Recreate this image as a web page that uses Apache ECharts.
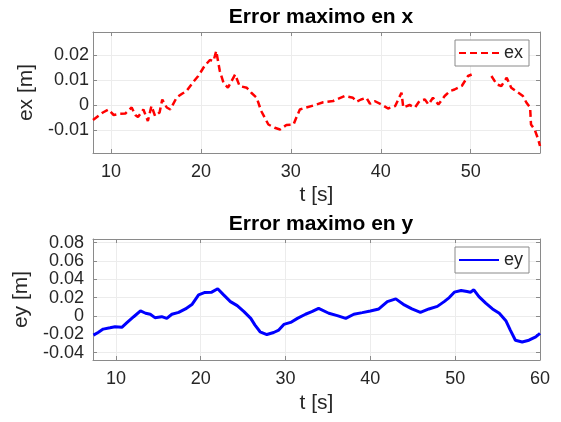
<!DOCTYPE html>
<html>
<head>
<meta charset="utf-8">
<script src="https://cdn.jsdelivr.net/npm/echarts@6/dist/echarts.min.js"></script>
<style>
  html, body { margin: 0; padding: 0; background: #fff; }
  #chart { width: 561px; height: 422px; }
</style>
</head>
<body>
<div id="chart"></div>
<script>
// Error en x: tiempo [s] y error [m]; null marks a gap in the record
const tX = [8.0, 9.1, 9.7, 10.3, 11.0, 11.6, 12.3, 12.7, 13.0, 13.6, 14.1, 14.5, 14.9, 15.4, 15.7, 16.2, 16.6,
  17.3, 17.9, 18.4, 19.1, 19.7, 20.4, 21.0, 21.4, 21.7, 22.1, 22.5, 23.0, 23.8, 24.3, 25.1, 25.6, 26.2, 26.7,
  27.5, 28.2, 28.8, 29.5, 30.3, 30.6, 31.0, 31.7, 32.7, 33.6, 34.7, 36.0, 36.9, 37.3, 37.8, 38.4, 38.8, 39.3,
  40.1, 40.8, 41.6, 42.3, 42.5, 43.2, 43.8, 44.3, 44.9, 45.3, 45.8, 46.4, 47.1, 47.7, 48.2, 49.0, 49.7, 50.1,
  51.2, 52.3, 52.9, 53.4, 54.0, 54.5, 55.3, 55.8, 56.2, 56.6, 56.7, 57.1, 57.5, 57.7];
const ex = [-0.0060, -0.0030, -0.0018, -0.0040, -0.0035, -0.0034, -0.0010, -0.0040, -0.0048, -0.0018, -0.0064,
  -0.0004, -0.0044, -0.0030, 0.0022, -0.0010, -0.0018, 0.0030, 0.0045, 0.0056, 0.0090, 0.0116, 0.0156, 0.0180,
  0.0176, 0.0216, 0.0136, 0.0090, 0.0069, 0.0122, 0.0076, 0.0069, 0.0049, 0.0029, -0.0024, -0.0078, -0.0091,
  -0.0098, -0.0080, -0.0078, -0.0051, -0.0018, -0.0010, 0.0000, 0.0011, 0.0016, 0.0036, 0.0029, 0.0013, 0.0022,
  0.0029, 0.0005, 0.0016, 0.0002, -0.0014, -0.0004, 0.0049, -0.0010, 0.0000, -0.0010, 0.0016, 0.0022, 0.0002,
  0.0029, 0.0002, 0.0036, 0.0056, 0.0062, 0.0076, 0.0116, 0.0122,
  null, 0.0116, 0.0082, 0.0076, 0.0109, 0.0069, 0.0049, 0.0036, 0.0009, -0.0010, -0.0078, -0.0098, -0.0137, -0.0164];

// Error en y
const tY = [7.35, 7.9, 8.5, 9.3, 9.9, 10.7, 11.3, 12.1, 12.9, 13.5, 14.05, 14.6, 15.4, 16.0, 16.6, 17.4, 18.2,
  19.0, 19.75, 20.5, 21.3, 22.0, 22.7, 23.5, 24.3, 25.1, 25.9, 26.4, 27.0, 27.8, 28.6, 29.2, 29.8, 30.6, 31.4,
  32.35, 33.1, 33.9, 35.1, 36.1, 37.1, 38.05, 39.05, 40.0, 41.0, 42.0, 43.0, 44.0, 44.9, 45.9, 46.9, 47.9, 48.7,
  49.3, 49.9, 50.7, 51.4, 51.8, 52.2, 52.8, 53.6, 54.4, 55.2, 56.0, 56.5, 57.1, 57.9, 58.7, 59.5, 60.0];
const ey = [-0.0209, -0.0180, -0.0143, -0.0129, -0.0118, -0.0124, -0.0073, -0.0008, 0.0055, 0.0030, 0.0019,
  -0.0018, -0.0007, -0.0026, 0.0019, 0.0040, 0.0077, 0.0129, 0.0231, 0.0257, 0.0260, 0.0297, 0.0231, 0.0157,
  0.0113, 0.0047, -0.0026, -0.0099, -0.0172, -0.0202, -0.0180, -0.0154, -0.0092, -0.0070, -0.0026, 0.0019,
  0.0047, 0.0084, 0.0030, 0.0004, -0.0026, 0.0019, 0.0037, 0.0055, 0.0077, 0.0157, 0.0187, 0.0121, 0.0077,
  0.0040, 0.0077, 0.0105, 0.0157, 0.0201, 0.0260, 0.0278, 0.0267, 0.0260, 0.0286, 0.0212, 0.0140, 0.0077,
  0.0030, -0.0055, -0.0154, -0.0264, -0.0283, -0.0264, -0.0228, -0.0190];

// Tick positions
const ticksX1 = [10, 20, 30, 40, 50];
const ticksY1 = [-0.01, 0, 0.01, 0.02];
const ticksX2 = [10, 20, 30, 40, 50, 60];
const ticksY2 = [-0.04, -0.02, 0, 0.02, 0.04, 0.06, 0.08];

const FONT = 'Liberation Sans';
const TXT = '#262626';
const BOX = '#8a8a8a';
const GRID = '#ececec';

const fmt = v => String(parseFloat(Number(v).toFixed(3)));

function axis(pos, gridIndex, min, max, ticks, opts) {
  const main = (pos === 'bottom' || pos === 'left');
  const a = {
    type: 'value', gridIndex, position: pos, min, max,
    axisLine: { show: true, onZero: false, lineStyle: { color: BOX, width: 1 } },
    axisTick: { show: true, inside: true, length: 4, customValues: ticks, lineStyle: { color: BOX } },
    axisLabel: {
      show: main, customValues: ticks, formatter: fmt,
      color: TXT, fontFamily: FONT, fontSize: 18, margin: (opts && opts.margin) || 6,
      showMinLabel: true, showMaxLabel: true
    },
    splitLine: { show: main, lineStyle: { color: GRID, width: 1 } }
  };
  if (main && opts && opts.name) {
    a.name = opts.name;
    a.nameLocation = 'middle';
    a.nameGap = opts.nameGap;
    a.nameTextStyle = { color: TXT, fontFamily: FONT, fontSize: 21 };
  }
  return a;
}

function legendBox(name, top) {
  return {
    data: [name], left: 455, top, orient: 'vertical', itemWidth: 40, itemHeight: 14,
    padding: [4, 6, 4, 3], borderColor: '#8a8a8a', borderWidth: 1, backgroundColor: '#fff',
    itemStyle: { opacity: 0 },
    textStyle: { fontFamily: FONT, fontSize: 18, color: TXT }
  };
}

const chart = echarts.init(document.getElementById('chart'), null, { renderer: 'canvas' });

chart.setOption({
  animation: false,
  backgroundColor: '#ffffff',
  title: [
    { text: 'Error maximo en x', left: 316, top: 2, textAlign: 'center',
      textStyle: { fontFamily: FONT, fontSize: 21, fontWeight: 'bold', color: '#000' } },
    { text: 'Error maximo en y', left: 316, top: 209, textAlign: 'center',
      textStyle: { fontFamily: FONT, fontSize: 21, fontWeight: 'bold', color: '#000' } }
  ],
  grid: [
    { left: 93, top: 32, width: 447, height: 121, show: false },
    { left: 93, top: 239, width: 447, height: 121, show: false }
  ],
  xAxis: [
    axis('bottom', 0, 8, 57.7, ticksX1, { name: 't [s]', nameGap: 32, margin: 10 }),
    axis('top', 0, 8, 57.7, ticksX1),
    axis('bottom', 1, 7.3, 60, ticksX2, { name: 't [s]', nameGap: 33, margin: 10 }),
    axis('top', 1, 7.3, 60, ticksX2)
  ],
  yAxis: [
    axis('left', 0, -0.0192, 0.0292, ticksY1, { name: 'ex [m]', nameGap: 55, margin: 4 }),
    axis('right', 0, -0.0192, 0.0292, ticksY1),
    axis('left', 1, -0.048, 0.084, ticksY2, { name: 'ey [m]', nameGap: 55, margin: 9 }),
    axis('right', 1, -0.048, 0.084, ticksY2)
  ],
  legend: [legendBox('ex', 40), legendBox('ey', 247)],
  series: [
    { name: 'ex', type: 'line', xAxisIndex: 0, yAxisIndex: 0, showSymbol: false, symbol: 'none',
      connectNulls: false,
      lineStyle: { color: '#ff0000', width: 2.5, type: [7, 4] }, itemStyle: { color: '#ff0000' },
      data: tX.map((t, i) => [t, ex[i]]) },
    { name: 'ey', type: 'line', xAxisIndex: 2, yAxisIndex: 2, showSymbol: false, symbol: 'none',
      lineStyle: { color: '#0000ff', width: 3 }, itemStyle: { color: '#0000ff' },
      data: tY.map((t, i) => [t, ey[i]]) }
  ]
});
</script>
</body>
</html>
